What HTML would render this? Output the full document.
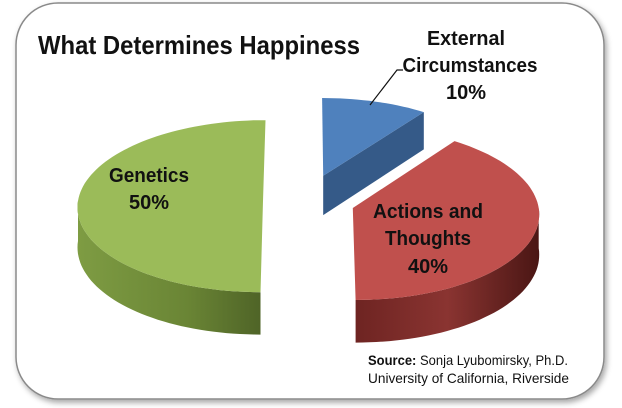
<!DOCTYPE html>
<html><head><meta charset="utf-8"><style>
html,body{margin:0;padding:0;background:#fff;}
svg{display:block;font-family:"Liberation Sans",sans-serif;}
</style></head><body>
<svg id="chart" width="622" height="408" viewBox="0 0 622 408">
<defs>
<filter id="sh" x="-5%" y="-5%" width="110%" height="110%"><feDropShadow dx="2" dy="3" stdDeviation="3" flood-color="#000" flood-opacity="0.35"/></filter>
<linearGradient id="gw0" x1="0" x2="1" y1="0" y2="0"><stop offset="0" stop-color="#7e9c43"/><stop offset="0.6" stop-color="#6a8535"/><stop offset="1" stop-color="#4f6427"/></linearGradient>
<linearGradient id="gw1" x1="0" x2="1" y1="0" y2="0"><stop offset="0" stop-color="#6e2422"/><stop offset="0.5" stop-color="#8a3431"/><stop offset="1" stop-color="#4a1614"/></linearGradient>
<linearGradient id="gw2" x1="0" x2="1" y1="0" y2="0"><stop offset="0" stop-color="#3d6596"/><stop offset="1" stop-color="#2f507a"/></linearGradient>
</defs>
<rect x="16" y="3" width="588" height="396" rx="42" ry="42" fill="#fff" stroke="#8a8a8a" stroke-width="1.5" filter="url(#sh)"/>
<text x="38" y="54" font-size="26" font-weight="bold" fill="#111" textLength="322" lengthAdjust="spacingAndGlyphs">What Determines Happiness</text>
<g id="pie"></g>
<g font-size="20" font-weight="bold" fill="#111" text-anchor="middle">
<text x="466" y="45" textLength="78" lengthAdjust="spacingAndGlyphs">External</text>
<text x="470" y="72" textLength="135" lengthAdjust="spacingAndGlyphs">Circumstances</text>
<text x="466" y="99">10%</text>
</g>
<polyline points="403,70 397,70 370,105" fill="none" stroke="#111" stroke-width="1.2"/>
<g font-size="20" font-weight="bold" fill="#111" text-anchor="middle">
<text x="149" y="182" textLength="80" lengthAdjust="spacingAndGlyphs">Genetics</text>
<text x="149" y="209">50%</text>
</g>
<g font-size="20" font-weight="bold" fill="#111" text-anchor="middle">
<text x="428" y="218" textLength="110" lengthAdjust="spacingAndGlyphs">Actions and</text>
<text x="428" y="245" textLength="86" lengthAdjust="spacingAndGlyphs">Thoughts</text>
<text x="428" y="273">40%</text>
</g>
<g font-size="14" fill="#111">
<text x="368" y="365" textLength="200" lengthAdjust="spacingAndGlyphs"><tspan font-weight="bold">Source:</tspan> Sonja Lyubomirsky, Ph.D.</text>
<text x="368" y="383" textLength="201" lengthAdjust="spacingAndGlyphs">University of California, Riverside</text>
</g>
</svg>
<script>
const categories = ["Genetics", "Actions and Thoughts", "External Circumstances"];
const values = [50, 40, 10];
const NS = "http://www.w3.org/2000/svg";
const cx = 305, cy = 201, rx = 185, ry = 86, depth = 40, persp = 0.06;
const explode = [42, 50, 60];
const topFill = ["#9bbb59", "#c0504d", "#4f81bd"];
const sideFill = ["url(#gw0)", "url(#gw1)", "url(#gw2)"];
const cutFill = ["#6a8535", "#7a2a28", "#355a88"];
const total = values.reduce((a, b) => a + b, 0);
function angleOf(v) { return v / total * 360; }
function proj(x, y, dy) {
  const f = 1 + persp * (y - cy) / ry;
  return [cx + (x - cx) * f, cy + (y - cy) * f + (dy || 0) * f];
}
function pt(ax, ay, deg, dy) {
  const r = deg * Math.PI / 180;
  return proj(ax + rx * Math.sin(r), ay - ry * Math.cos(r), dy);
}
function arcPts(ax, ay, a1, a2, dy) {
  const out = []; const n = Math.max(2, Math.ceil(Math.abs(a2 - a1) / 2));
  for (let i = 0; i <= n; i++) out.push(pt(ax, ay, a1 + (a2 - a1) * i / n, dy));
  return out;
}
function poly(points, fill, name) {
  const p = document.createElementNS(NS, "polygon");
  p.setAttribute("points", points.map(q => q[0].toFixed(1) + "," + q[1].toFixed(1)).join(" "));
  p.setAttribute("fill", fill);
  
  
  return p;
}
const pie = document.getElementById("pie");
const slices = [];
let acc = 0;
const order = [2, 1, 0];
order.forEach(i => { const a = angleOf(values[i]); slices[i] = [acc, acc + a]; acc += a; });
const drawOrder = [2, 0, 1];
drawOrder.forEach(i => {
  const [a1, a2] = slices[i];
  const m = (a1 + a2) / 2, mr = m * Math.PI / 180;
  const ax = cx + explode[i] * Math.sin(mr), ay = cy - explode[i] * Math.cos(mr) * 0.45;
  const A = proj(ax, ay, 0), Ad = proj(ax, ay, depth);
  const g = document.createElementNS(NS, "g");
  
  
  const s2 = Math.sin(a2 * Math.PI / 180);
  if (s2 > 0.01) {
    g.appendChild(poly([A, pt(ax, ay, a2), pt(ax, ay, a2, depth), Ad], cutFill[i], 'cut-face'));
  }
  const s1 = Math.sin(a1 * Math.PI / 180);
  if (s1 < -0.01) {
    g.appendChild(poly([A, pt(ax, ay, a1), pt(ax, ay, a1, depth), Ad], cutFill[i], 'cut-face'));
  }
  const w1 = Math.max(a1, 90), w2 = Math.min(a2, 270);
  if (w2 > w1) {
    const top = arcPts(ax, ay, w1, w2, 0), bot = arcPts(ax, ay, w2, w1, depth);
    g.appendChild(poly(top.concat(bot), sideFill[i], 'outer-wall'));
  }
  g.appendChild(poly([A].concat(arcPts(ax, ay, a1, a2, 0)), topFill[i], 'top-face'));
  pie.appendChild(g);
});
</script>
</body></html>
